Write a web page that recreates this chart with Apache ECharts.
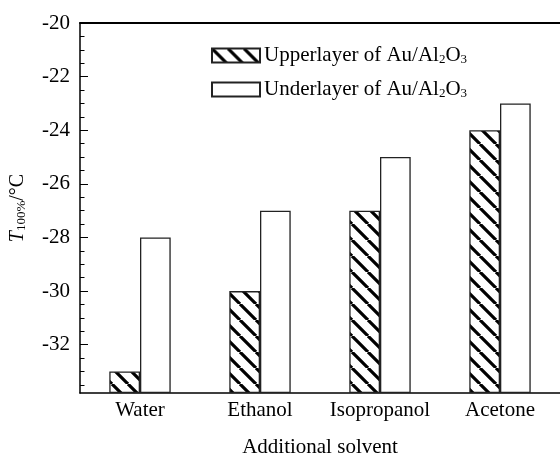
<!DOCTYPE html>
<html>
<head>
<meta charset="utf-8">
<script src="https://cdn.jsdelivr.net/npm/echarts@6/dist/echarts.min.js"></script>
<style>html,body{margin:0;padding:0;background:#fff}#c{width:560px;height:455px}</style>
</head>
<body>
<div id="c"></div>
<script>
const categories = ['Water', 'Ethanol', 'Isopropanol', 'Acetone'];
const upperValues = [-33, -30, -27, -24];
const underValues = [-28, -27, -25, -23];
const yMajorTicks = [-32, -30, -28, -26, -24, -22, -20];
const yMinorTicks = [-33.5, -33, -32.5, -31.5, -31, -30.5, -29.5, -29, -28.5, -27.5, -27, -26.5, -25.5, -25, -24.5, -23.5, -23, -22.5, -21.5, -21, -20.5];
const seriesNames = ['Upperlayer of Au/Al2O3', 'Underlayer of Au/Al2O3'];
const legendLabels = ['Upperlayer of Au/Al{s|2}O{s|3}', 'Underlayer of Au/Al{s|2}O{s|3}'];
const yName = '{i|T}{s|100%}{n|/°C}';
const xName = 'Additional solvent';
const Y_MIN = -33.8, Y_MAX = -20;

function hatch() {
  const s = 16;
  const c = document.createElement('canvas');
  c.width = s; c.height = s;
  const g = c.getContext('2d');
  g.fillStyle = '#fff'; g.fillRect(0, 0, s, s);
  g.strokeStyle = '#000'; g.lineWidth = 3.2;
  g.beginPath();
  for (const o of [-s, 0, s]) { g.moveTo(o, 0); g.lineTo(o + s, s); }
  g.stroke();
  return c;
}

const FONT = 'Liberation Serif';
const FS = 21;
const chart = echarts.init(document.getElementById('c'));
chart.setOption({
  animation: false,
  backgroundColor: '#fff',
  grid: { left: 77, top: 23, width: 492, height: 370 },
  legend: {
    orient: 'vertical', left: 206, top: 40,
    itemWidth: 48, itemHeight: 14, itemGap: 13,
    icon: 'rect',
    data: seriesNames,
    formatter: function (name) { return legendLabels[seriesNames.indexOf(name)]; },
    textStyle: {
      fontFamily: FONT, fontSize: FS, color: '#000', padding: [0, 0, 0, -1],
      rich: { s: { fontFamily: FONT, fontSize: 13, verticalAlign: 'bottom', color: '#000' } }
    }
  },
  graphic: [{
    type: 'text',
    style: { text: xName, x: 320, y: 447, align: 'center', verticalAlign: 'middle',
      fontFamily: FONT, fontSize: FS, fill: '#000' }
  }],
  xAxis: [{
    type: 'category', data: categories,
    axisLine: { lineStyle: { color: '#000', width: 1.5 } },
    axisTick: { show: false },
    axisLabel: { interval: 0, hideOverlap: false, fontFamily: FONT, fontSize: FS, color: '#000', margin: 7 }
  }, {
    type: 'category', data: categories, position: 'top',
    axisLine: { lineStyle: { color: '#000', width: 2 } },
    axisTick: { show: false }, axisLabel: { show: false }
  }],
  yAxis: [{
    type: 'value', min: Y_MIN, max: Y_MAX, startValue: Y_MIN,
    splitLine: { show: false },
    axisLine: { show: true, lineStyle: { color: '#000', width: 1.5 } },
    axisTick: { show: true, inside: true, length: 8, customValues: yMajorTicks, lineStyle: { color: '#000', width: 1 } },
    axisLabel: { customValues: yMajorTicks, fontFamily: FONT, fontSize: FS, color: '#000', margin: 10 },
    name: yName, nameLocation: 'middle', nameGap: 52, nameRotate: 90,
    nameTextStyle: {
      fontFamily: FONT, fontSize: 19, color: '#000',
      rich: {
        i: { fontFamily: FONT, fontSize: 20, fontStyle: 'italic', color: '#000' },
        s: { fontFamily: FONT, fontSize: 13, verticalAlign: 'bottom', color: '#000' },
        n: { fontFamily: FONT, fontSize: 20, color: '#000' }
      }
    }
  }, {
    type: 'value', min: Y_MIN, max: Y_MAX, position: 'left',
    splitLine: { show: false },
    axisLine: { show: false },
    axisTick: { show: true, inside: true, length: 4.5, customValues: yMinorTicks, lineStyle: { color: '#000', width: 1 } },
    axisLabel: { show: false }
  }],
  series: [{
    name: seriesNames[0], type: 'bar', data: upperValues,
    barWidth: 30.7, barGap: '0%',
    itemStyle: { color: { image: hatch(), repeat: 'repeat' }, borderColor: '#222', borderWidth: 1.3 }
  }, {
    name: seriesNames[1], type: 'bar', data: underValues,
    barWidth: 30.7, barGap: '0%',
    itemStyle: { color: '#fff', borderColor: '#222', borderWidth: 1.3 }
  }]
});
</script>
</body>
</html>
